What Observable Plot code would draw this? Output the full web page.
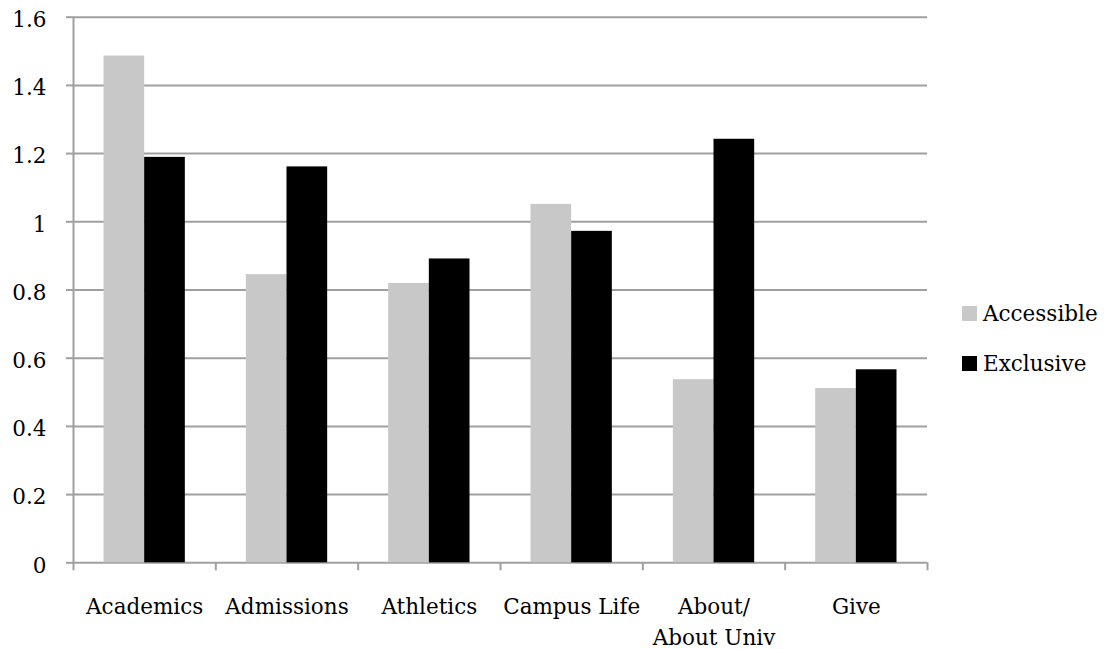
<!DOCTYPE html>
<html>
<head>
<meta charset="utf-8">
<script src="https://cdn.jsdelivr.net/npm/d3@7"></script>
<script src="https://cdn.jsdelivr.net/npm/@observablehq/plot@0.6"></script>
<style>
  html, body { margin: 0; padding: 0; background: #fff; }
  #wrap { position: relative; width: 1107px; height: 649px; font-family: "DejaVu Serif", serif; }
  #legend { position: absolute; left: 962px; top: 288px; font-size: 21.5px; color: #000; }
  #legend .item { display: flex; align-items: center; height: 50px; }
  #legend .sw { width: 15px; height: 15px; margin-right: 6px; }
</style>
</head>
<body>
<div id="wrap"></div>
<script>
const categories = ["Academics", "Admissions", "Athletics", "Campus Life", "About/\nAbout Univ", "Give"];
const seriesNames = ["Accessible", "Exclusive"];
const accessible = [1.486, 0.845, 0.819, 1.051, 0.537, 0.511];
const exclusive  = [1.189, 1.161, 0.891, 0.972, 1.242, 0.566];
const yTicks = [0, 0.2, 0.4, 0.6, 0.8, 1, 1.2, 1.4, 1.6];
const colors = ["#c8c8c8", "#000000"];

// layout of a group inside its category band (fractions of the band)
const groupPad = 3 / 14;
const barW = (1 - 2 * groupPad) / 2;

const rows = [];
categories.forEach((c, i) => {
  [accessible, exclusive].forEach((vals, s) => {
    rows.push({category: c, series: seriesNames[s], value: vals[i], x1: i + groupPad + s * barW, x2: i + groupPad + (s + 1) * barW});
  });
});
const boundaries = d3.range(categories.length + 1);
const centers = categories.map((c, i) => ({label: c, pos: i + 0.5}));

const grid = "#a0a0a0";

const chart = Plot.plot({
  width: 1107,
  height: 649,
  marginLeft: 73,
  marginRight: 180,
  marginTop: 16.7,
  marginBottom: 86.7,
  style: {fontFamily: "DejaVu Serif, serif", fontSize: "21.5px", color: "#000", background: "#fff"},
  x: {type: "linear", domain: [0, categories.length], axis: null},
  y: {domain: [0, 1.6], axis: null},
  color: {domain: seriesNames, range: colors},
  marks: [
    Plot.ruleY(yTicks, {stroke: grid, strokeWidth: 2}),
    Plot.ruleX([0], {stroke: grid, strokeWidth: 2}),
    Plot.axisY({ticks: yTicks, tickSize: 7, tickFormat: () => "", stroke: grid, strokeWidth: 2, label: null}),
    Plot.axisY({ticks: yTicks, tickSize: 0, tickPadding: 27, tickFormat: d3.format("~g"), fontSize: 21.5, fill: "#000", dy: 3, label: null}),
    Plot.axisX({ticks: boundaries, tickSize: 8, tickFormat: () => "", stroke: grid, strokeWidth: 2, label: null}),
    Plot.rectY(rows, {x1: "x1", x2: "x2", y: "value", fill: "series"}),
    Plot.text(centers, {x: "pos", y: 0, text: "label", dy: 28.5, lineAnchor: "top", lineHeight: 1.47, fontSize: 21.5, fill: "#000"})
  ]
});
const wrap = document.getElementById("wrap");
wrap.appendChild(chart);

const legend = document.createElement("div");
legend.id = "legend";
seriesNames.forEach((s, i) => {
  const item = document.createElement("div");
  item.className = "item";
  const sw = document.createElement("span");
  sw.className = "sw";
  sw.style.background = colors[i];
  const t = document.createElement("span");
  t.textContent = s;
  item.appendChild(sw);
  item.appendChild(t);
  legend.appendChild(item);
});
wrap.appendChild(legend);
</script>
</body>
</html>
